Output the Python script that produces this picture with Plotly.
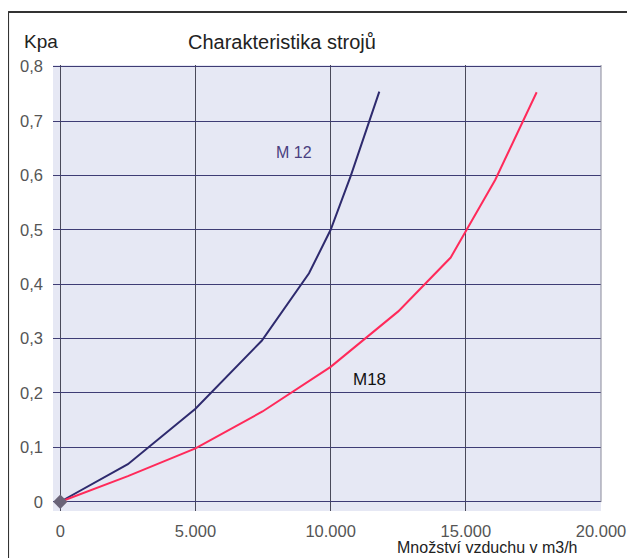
import plotly.graph_objects as go

# Data
m12_x = [0, 2500, 5000, 7450, 9200, 10000, 10750, 11800]
m12_y = [0, 0.069, 0.171, 0.296, 0.42, 0.5, 0.6, 0.754]
m18_x = [0, 2500, 5000, 7480, 10000, 12500, 14440, 16090, 17620]
m18_y = [0, 0.047, 0.098, 0.166, 0.248, 0.35, 0.449, 0.592, 0.753]

x_ticks = [0, 5000, 10000, 15000, 20000]
x_labels = ["0", "5.000", "10.000", "15.000", "20.000"]
y_ticks = [0, 0.1, 0.2, 0.3, 0.4, 0.5, 0.6, 0.7, 0.8]
y_labels = ["0", "0,1", "0,2", "0,3", "0,4", "0,5", "0,6", "0,7", "0,8"]

FONT = "Liberation Sans, Arial, sans-serif"

fig = go.Figure()
fig.add_trace(go.Scatter(x=m12_x, y=m12_y, mode="lines",
                         line=dict(color="#2e2a6e", width=2), name="M 12"))
fig.add_trace(go.Scatter(x=m18_x, y=m18_y, mode="lines",
                         line=dict(color="#ff2a5a", width=2), name="M18"))
fig.add_trace(go.Scatter(x=[0], y=[0], mode="markers",
                         marker=dict(symbol="diamond", size=11, color="#6a6478"),
                         name="start"))

tickfont = dict(family=FONT, size=16.5, color="#555555")

fig.update_layout(
    width=627, height=550,
    margin=dict(l=45, r=34, t=57, b=47, autoexpand=False),
    paper_bgcolor="white",
    plot_bgcolor="#e6e8f4",
    showlegend=False,
    xaxis=dict(range=[-270, 20000], tickvals=x_ticks, ticktext=x_labels,
               showgrid=True, gridcolor="#4a4a5a", gridwidth=1,
               zeroline=False, showline=False, ticks="", automargin=False,
               ticklabelstandoff=8, tickfont=tickfont),
    yaxis=dict(range=[-0.017, 0.803], tickvals=y_ticks, ticktext=y_labels,
               showgrid=True, gridcolor="#3e3c74", gridwidth=1,
               zeroline=False, showline=False, ticks="", automargin=False,
               ticklabelstandoff=9, tickfont=tickfont),
    annotations=[
        dict(text="Kpa", xref="paper", yref="paper", x=-0.0566, y=1.0516,
             xanchor="left", yanchor="middle", showarrow=False,
             font=dict(family=FONT, size=19, color="#222222")),
        dict(text="Charakteristika strojů", xref="paper", yref="paper", x=0.418, y=1.0516,
             xanchor="center", yanchor="middle", showarrow=False,
             font=dict(family=FONT, size=20, color="#222222")),
        dict(text="Množství vzduchu v m3/h", xref="paper", yref="paper", x=0.792, y=-0.081,
             xanchor="center", yanchor="middle", showarrow=False,
             font=dict(family=FONT, size=16, color="#222222")),
        dict(text="M 12", x=8630, y=0.643, showarrow=False,
             font=dict(family=FONT, size=16, color="#4a3f80")),
        dict(text="M18", x=11440, y=0.224, showarrow=False,
             font=dict(family=FONT, size=17, color="#111111")),
    ],
    shapes=[
        dict(type="line", xref="paper", yref="paper", x0=-0.082, x1=1.1, y0=1.119, y1=1.119,
             line=dict(color="#333333", width=2)),
        dict(type="line", xref="paper", yref="paper", x0=-0.082, x1=-0.082, y0=1.119, y1=-0.11,
             line=dict(color="#333333", width=2)),
        dict(type="line", xref="paper", yref="paper", x0=1.0, x1=1.0, y0=0.02, y1=1.0,
             line=dict(color="#8a8a9a", width=1)),
    ],
)

fig.write_html("out.html")
